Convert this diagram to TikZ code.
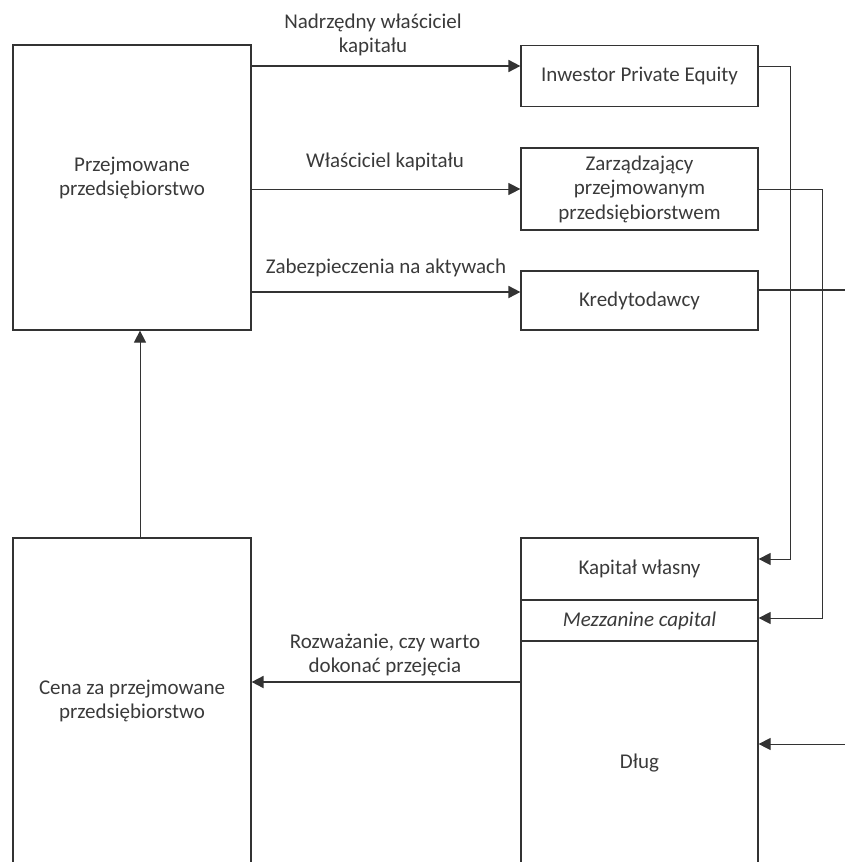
\documentclass[tikz,border=0pt]{standalone}
\usepackage{fontspec}
\setmainfont{Carlito}
\usetikzlibrary{arrows.meta}
\definecolor{ln}{HTML}{333333}
\definecolor{tx}{HTML}{3A3A3A}
\begin{document}
\begin{tikzpicture}[x=1pt,y=-1pt,
  txt/.style={font=\fontsize{21}{24.5}\selectfont},
  box/.style={draw=ln, line width=1.2pt, minimum width=237pt, inner sep=0pt, text=tx, align=center, txt},
  lbl/.style={text=tx, align=center, inner sep=0pt, txt},
  conn/.style={draw=ln, line width=1pt},
  heavy/.style={draw=ln, line width=1.8pt},
  arr/.style={-{Triangle[length=12pt,width=12pt]}}
]
\useasboundingbox (0,0) rectangle (845,862);
\clip (0,0) rectangle (845,862);
% left boxes
\node[box, minimum width=238pt, minimum height=285pt] (A) at (132,187.5) {};
\node[lbl] (Atext) at (132,178) {Przejmowane\\przedsiębiorstwo};
\node[box, minimum width=238pt, minimum height=342pt] (C) at (132,709) {};
\node[lbl] (Ctext) at (132,701) {Cena za przejmowane\\przedsiębiorstwo};
% right top boxes
\node[box, minimum height=61pt] (ipe) at (639.5,76) {Inwestor Private Equity};
\node[box, minimum height=82pt] (zp) at (639.5,189) {Zarządzający\\przejmowanym\\przedsiębiorstwem};
\node[box, minimum height=59pt] (kr) at (639.5,300.5) {Kredytodawcy};
% right bottom stack
\node[box, minimum height=62pt] (kw) at (639.5,569) {Kapitał własny};
\node[box, minimum height=41pt] (mz) at (639.5,620.5) {\itshape Mezzanine capital};
\node[box, minimum height=239pt] (dl) at (639.5,760.5) {};
\node[lbl] (dltext) at (639.5,763) {Dług};
% connectors from the left box
\draw[heavy, arr] (A.east |- 0,66) -- (ipe.west |- 0,66);
\draw[conn, arr] (A.east |- 0,189) -- (zp.west |- 0,189);
\draw[heavy, arr] (A.east |- 0,292) -- (kr.west |- 0,292);
\draw[conn, arr] (C.north -| 140,0) -- (A.south -| 140,0);
\draw[heavy, arr] (dl.west |- 0,682) -- (C.east |- 0,682);
% labels
\node[lbl] (l1) at (373,35) {Nadrzędny właściciel\\kapitału};
\node[lbl] (l2) at (385,162) {Właściciel kapitału};
\node[lbl] (l3) at (386,268) {Zabezpieczenia na aktywach};
\node[lbl] (l4) at (385,655) {Rozważanie, czy warto\\dokonać przejęcia};
% right-side connectors
\coordinate (c1) at (790,66);
\coordinate (c2) at (822,189);
\coordinate (kout) at (850,290);
\coordinate (din) at (850,744);
\draw[conn, arr] (ipe.east |- c1) -- (c1) |- (kw.east |- 0,559);
\draw[conn, arr] (zp.east) -- (c2) |- (mz.east |- 0,618);
\draw[heavy] (kr.east |- kout) -- (kout);
\draw[conn, arr] (din) -- (dl.east |- din);
\end{tikzpicture}
\end{document}
